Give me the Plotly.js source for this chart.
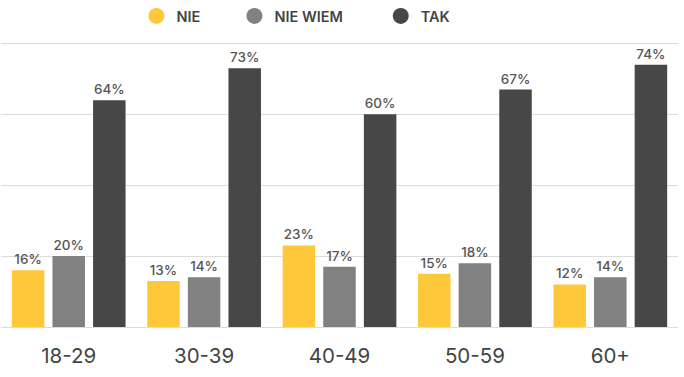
<!DOCTYPE html>
<html><head><meta charset="utf-8">
<script src="https://cdn.plot.ly/plotly-3.0.1.min.js"></script>
<style>html,body{margin:0;padding:0;background:#fff}#c{width:684px;height:377px}</style>
</head><body><div id="c"></div>
<script>
const categories = ['18-29','30-39','40-49','50-59','60+'];
const seriesNames = ['NIE','NIE WIEM','TAK'];
const nie = [16,13,23,15,12];
const nieWiem = [20,14,17,18,14];
const tak = [64,73,60,67,74];
const colors = ['#FFC83A','#818181','#474748'];
const values = [nie, nieWiem, tak];
const font = 'Inter, "Open Sans", sans-serif';
const pads = ['\u00a0'.repeat(8), '\u00a0'.repeat(9), ''];

const traces = [];
values.forEach((v,i)=>{
  traces.push({type:'bar', x:categories, y:v, name:seriesNames[i], showlegend:false,
    marker:{color:colors[i]}, texttemplate:'%{y}%', textposition:'outside',
    textfont:{family:font, size:13.5, color:'#555', weight:500}, cliponaxis:false, hoverinfo:'skip'});
});
values.forEach((v,i)=>{
  traces.push({type:'scatter', mode:'markers', x:[null], y:[null], name:seriesNames[i] + pads[i],
    marker:{color:colors[i], size:20, symbol:'circle'}, showlegend:true});
});

const layout = {
  width:684, height:377,
  margin:{l:1, r:6, t:42, b:50},
  paper_bgcolor:'#fff', plot_bgcolor:'#fff',
  barmode:'group', bargap:0.10, bargroupgap:0.2,
  showlegend:true,
  legend:{orientation:'h', x:0.2, xanchor:'left', y:1, yanchor:'top', yref:'container',
    font:{family:font, size:14.5, color:'#444', weight:600}, itemwidth:30, traceorder:'normal'},
  xaxis:{tickfont:{family:font, size:20.5, color:'#444'}, showgrid:false, zeroline:false, showline:false, ticks:'', ticklabelstandoff:14},
  yaxis:{range:[0,80.4], tickvals:[0,20,40,60,80], showticklabels:false, gridcolor:'#dcdcdc', gridwidth:1, zeroline:true, zerolinecolor:'#dcdcdc', zerolinewidth:1, showline:false}
};
Plotly.newPlot('c', traces, layout, {displayModeBar:false, staticPlot:true});
</script></body></html>
